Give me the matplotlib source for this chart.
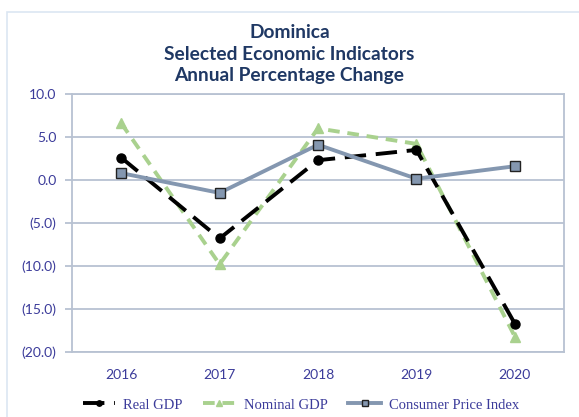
import matplotlib
matplotlib.use("Agg")
import matplotlib.pyplot as plt
from matplotlib.patches import Rectangle
import numpy as np

years = ['2016', '2017', '2018', '2019', '2020']
real_gdp = [2.6, -6.8, 2.3, 3.5, -16.7]
nominal_gdp = [6.6, -9.8, 6.0, 4.2, -18.2]
cpi = [0.8, -1.5, 4.1, 0.15, 1.6]
yticks = [10, 5, 0, -5, -10, -15, -20]

navy = '#1F3864'
tick_col = '#3B3B9A'
grid_col = '#B8C2D2'

fig = plt.figure(figsize=(5.79, 4.17), dpi=100)
ax = fig.add_axes([72/579, 1-352/417, (564-72)/579, (352-94)/417])

# outer chart border
fig.patches.append(Rectangle((7/579, -0.1), 1.2, 1-12/417+0.1, transform=fig.transFigure,
                             fill=False, edgecolor='#DCE6F2', linewidth=1.2))

x = np.arange(len(years))
ax.plot(x, real_gdp, color='black', linewidth=2.8, linestyle=(0, (5.5, 2.5)),
        marker='o', markersize=6.5, label='Real GDP', zorder=4)
ax.plot(x, nominal_gdp, color='#A9D18E', linewidth=2.8, linestyle=(0, (3, 2)),
        marker='^', markersize=6.5, label='Nominal GDP', zorder=3)
ax.plot(x, cpi, color='#8497B0', linewidth=2.8, linestyle='-',
        marker='s', markersize=6.5, markeredgecolor='#222222', markeredgewidth=1.0,
        label='Consumer Price Index', zorder=5)

ax.set_xlim(-0.5, len(years) - 0.5)
ax.set_ylim(-20, 10)
ax.set_yticks(yticks)
ax.set_yticklabels(['%.1f' % v if v >= 0 else '(%.1f)' % -v for v in yticks])
ax.set_xticks(x)
ax.set_xticklabels(years)
for lbl in ax.get_xticklabels() + ax.get_yticklabels():
    lbl.set_family('Lato')
    lbl.set_fontsize(10)
    lbl.set_color(tick_col)

ax.grid(axis='y', color=grid_col, linewidth=1.3)
ax.set_axisbelow(True)
for s in ax.spines.values():
    s.set_color(grid_col)
    s.set_linewidth(1.3)
ax.tick_params(axis='y', length=5, color=grid_col, width=1.3, pad=6)
ax.tick_params(axis='x', length=0, pad=12)

for ypix, line in [(33, 'Dominica'), (54, 'Selected Economic Indicators'),
                   (76, 'Annual Percentage Change')]:
    fig.text(0.5, 1-ypix/417, line, ha='center', va='center', fontsize=13.8,
             fontweight='bold', color=navy, family='Lato')

leg = fig.legend(loc='center', bbox_to_anchor=(0.52, 1-405/417), ncol=3, frameon=False,
                 prop={'family': 'Liberation Serif', 'size': 10.5}, handlelength=2.2,
                 handletextpad=0.6, columnspacing=1.4, markerscale=0.6)
for t in leg.get_texts():
    t.set_color(tick_col)

fig.savefig('out.png', dpi=100)
